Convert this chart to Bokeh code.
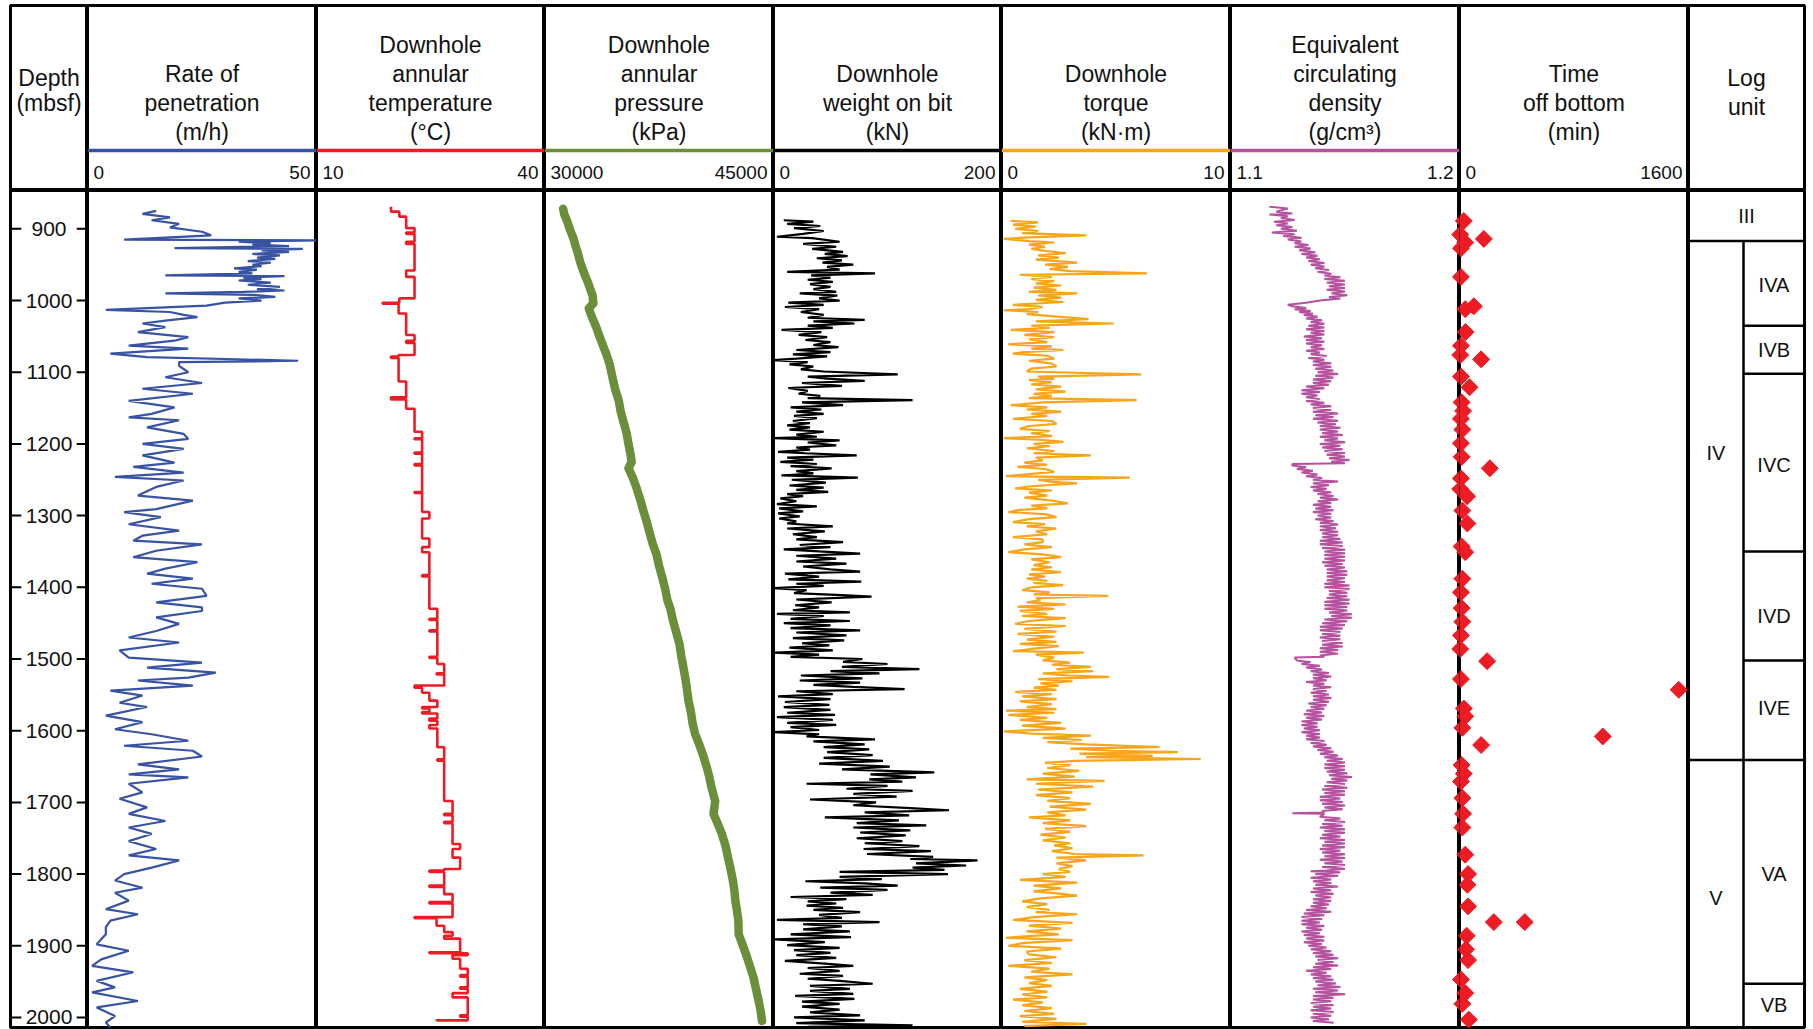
import math
from bokeh.plotting import figure
from bokeh.models import Range1d, Span
from bokeh.layouts import row, column
from bokeh.embed import file_html
from bokeh.resources import INLINE
from bokeh.core.properties import value

FONT = "Liberation Sans"

# ---------------- data (depth in mbsf, value) ----------------
depth_ticks = [900, 1000, 1100, 1200, 1300, 1400, 1500, 1600, 1700, 1800, 1900, 2000]

rop = [(875,15),(879,12),(884,18),(888,14),(893,20),(898,18),(904,25),(909,27),(915,8),(916,50),
       (918,33),(920,40),(922,36),(924,44),(927,19),(928,47),(930,38),(932,44),(935,36),(937,42),
       (940,37),(942,41),(945,35),(947,40),(950,36),(952,38),(955,32),(957,37),(960,33),(962,36),
       (965,17),(966,43),(968,34),(970,38),(972,33),(975,40),(978,35),(981,42),(984,37),(986,43),
       (988,34),(990,17),(992,36),(995,41),(997,33),(1000,38),(1003,30),(1007,26),(1013,4),(1016,18),
       (1020,21),(1023,24),(1028,17),(1032,12),(1037,17),(1044,11),(1051,22),(1056,19),(1063,9),(1067,22),
       (1074,5),(1079,13),(1084,46),(1086,20),(1091,20),(1100,22),(1107,17),(1115,25),(1123,12),(1130,23),
       (1140,9),(1149,19),(1158,14),(1163,9),(1167,20),(1177,13),(1186,21),(1193,22),(1200,12),(1207,21),
       (1216,12),(1226,19),(1232,10),(1240,21),(1246,6),(1251,21),(1260,15),(1272,11),(1279,23),(1291,15),
       (1295,8),(1302,16),(1312,9),(1321,20),(1328,12),(1335,10),(1340,25),(1349,15),(1358,10),(1365,24),
       (1374,17),(1381,13),(1388,23),(1395,14),(1402,25),(1412,26),(1421,15),(1428,25),(1433,25),(1442,15),
       (1451,20),(1461,15),(1470,9),(1477,20),(1488,7),(1498,9),(1505,25),(1512,13),(1519,28),(1526,22),
       (1530,11),(1537,23),(1544,5),(1551,12),(1561,7),(1567,13),(1579,4),(1588,12),(1598,6),(1605,14),
       (1614,22),(1621,8),(1628,23),(1636,25),(1647,11),(1654,20),(1661,9),(1665,22),(1674,9),(1686,12),
       (1695,7),(1707,13),(1716,9),(1726,17),(1735,9),(1744,14),(1754,9),(1765,15),(1774,9),(1781,20),
       (1791,14),(1800,8),(1809,6),(1819,12),(1826,6),(1837,9),(1849,4),(1856,11),(1865,5),(1874,4),
       (1884,4),(1898,2),(1907,9),(1919,3),(1928,1),(1937,10),(1949,2),(1958,6),(1965,1),(1977,11),
       (1986,2),(1998,6),(2007,4),(2014,5)]

temp_steps = [(869,19.8),(876,20.9),(883,21.8),(899,22.9),(905,21.8),(907,22.9),(918,21.8),(921,22.9),
       (958,21.8),(967,22.9),(997,20.9),(1003,18.7),(1004.5,20.8),(1018,21.8),(1048,22.9),(1056,21.8),
       (1059,22.9),(1076,20.8),(1078,19.8),(1080,20.8),(1113,21.8),(1135,19.8),(1138,21.8),(1151,22.9),
       (1183,23.9),(1192,22.9),(1193.5,23.9),(1212,22.9),(1213.5,23.9),(1228,22.9),(1230,23.9),(1267,22.9),
       (1268.5,23.9),(1295,24.85),(1304,23.9),(1332,24.85),(1344,23.9),(1351,24.85),(1383,23.9),(1385,24.85),
       (1430,25.9),(1444,24.85),(1445.5,25.9),(1460,24.85),(1461.5,25.9),(1497,24.85),(1498.5,25.9),(1507,26.8),
       (1520,25.8),(1521.5,26.8),(1537,22.9),(1540,23.9),(1547,24.85),(1558,25.9),(1567,23.9),(1569,24.85),
       (1574,23.9),(1576,25.9),(1583,24.85),(1586,25.9),(1592,24.85),(1597,25.9),(1623,26.8),(1640,25.9),
       (1642,26.8),(1698,27.9),(1716,26.8),(1718,27.9),(1727,26.8),(1729,27.9),(1758,28.9),(1765,27.9),
       (1777,28.9),(1793,26.8),(1795,24.85),(1797,26.8),(1816,24.85),(1818,26.8),(1828,27.9),(1839,24.85),
       (1841,27.9),(1860,22.9),(1861.5,25.8),(1872,26.8),(1881,27.9),(1886,26.8),(1890,28.9),(1909,24.85),
       (1910.5,29.9),(1913,27.9),(1918,28.9),(1932,29.9),(1941,28.9),(1943,29.9),(1958,28.9),(1960,29.9),
       (1966,27.9),(1972,29.9),(1997,28.9),(1999,29.9),(2004,25.8)]
temp_end = 2005

pressure = [(872,31220),(880,31300),(890,31500),(900,31650),(913,31890),(925,32050),(935,32200),(946,32330),
       (955,32480),(965,32650),(975,32850),(983,32980),(993,33150),(1004,33200),(1011,32900),(1020,33050),
       (1030,33250),(1039,33420),(1050,33600),(1060,33780),(1076,34070),(1090,34280),(1105,34430),(1123,34620),
       (1140,34870),(1155,34990),(1169,35170),(1185,35380),(1200,35500),(1215,35640),(1225,35710),(1234,35500),
       (1248,35800),(1262,36040),(1280,36300),(1295,36500),(1309,36700),(1325,36900),(1340,37100),(1355,37350),
       (1370,37500),(1385,37700),(1402,37900),(1418,38050),(1430,38250),(1445,38400),(1465,38660),(1480,38850),
       (1495,38950),(1512,39100),(1530,39250),(1545,39350),(1558,39430),(1575,39600),(1590,39700),(1605,39870),
       (1620,40150),(1635,40400),(1651,40630),(1665,40800),(1680,40950),(1698,41180),(1716,41070),(1730,41350),
       (1744,41620),(1760,41850),(1775,42000),(1791,42170),(1810,42350),(1825,42450),(1837,42500),(1850,42600),
       (1865,42700),(1884,42720),(1900,43000),(1915,43250),(1930,43480),(1945,43700),(1960,43850),(1977,44030),
       (1990,44150),(2005,44250)]

wob = [(888,9),(890,35),(893,12),(896,41),(899,18),(903,44),(907,26),(911,3),(913,34),(918,58),(921,26),
       (925,55),(928,34),(932,61),(935,45),(938,65),(941,38),(944,60),(947,43),(950,70),(953,47),(957,58),
       (960,12),(962,89),(965,33),(968,50),(971,30),(974,52),(977,32),(981,50),(984,35),(988,55),(990,23),
       (993,56),(997,40),(1000,58),(1003,13),(1006,44),(1009,10),(1012,40),(1016,24),(1020,44),(1024,30),
       (1027,80),(1029,35),(1032,71),(1035,30),(1038,52),(1041,7),(1044,42),(1048,22),(1051,47),(1055,28),
       (1058,50),(1062,35),(1065,57),(1069,20),(1072,50),(1075,17),(1078,47),(1081,20),(1083,0),(1086,30),
       (1089,14),(1092,35),(1096,24),(1099,44),(1103,109),(1106,30),(1109,47),(1112,80),(1115,25),(1119,60),
       (1122,13),(1126,30),(1130,22),(1133,41),(1136,30),(1139,122),(1142,25),(1146,61),(1149,15),(1152,42),
       (1155,20),(1158,44),(1161,18),(1164,38),(1168,17),(1171,32),(1174,12),(1177,32),(1180,14),(1183,44),
       (1187,20),(1190,38),(1192,0),(1195,58),(1198,30),(1202,55),(1205,20),(1208,32),(1211,4),(1213,28),
       (1216,73),(1219,12),(1222,35),(1225,6),(1228,38),(1231,15),(1234,51),(1238,20),(1241,35),(1244,7),
       (1247,74),(1250,16),(1254,46),(1258,14),(1261,44),(1264,20),(1267,48),(1270,12),(1273,26),(1276,6),
       (1280,20),(1284,3),(1287,38),(1290,5),(1294,26),(1297,4),(1301,23),(1304,5),(1308,20),(1311,12),
       (1315,52),(1318,12),(1322,45),(1326,17),(1330,38),(1333,20),(1337,61),(1341,23),(1344,50),(1347,9),
       (1350,40),(1353,76),(1356,20),(1360,55),(1364,20),(1367,64),(1371,26),(1375,50),(1378,76),(1381,10),
       (1385,40),(1389,13),(1392,77),(1395,20),(1398,44),(1401,0),(1404,29),(1408,18),(1411,60),(1413,86),
       (1417,20),(1421,51),(1425,19),(1428,40),(1432,17),(1435,67),(1437,3),(1440,44),(1444,15),(1447,67),
       (1450,9),(1453,50),(1457,15),(1460,76),(1463,20),(1467,64),(1471,17),(1474,62),(1478,25),(1481,49),
       (1484,14),(1488,52),(1491,1),(1494,40),(1497,15),(1500,78),(1504,61),(1507,100),(1511,60),(1514,128),
       (1517,50),(1520,93),(1523,24),(1527,78),(1530,23),(1533,76),(1536,35),(1539,70),(1542,115),(1545,20),
       (1549,52),(1552,4),(1556,50),(1560,10),(1564,49),(1567,9),(1571,50),(1575,12),(1578,54),(1581,3),
       (1585,52),(1589,12),(1592,55),(1595,15),(1599,40),(1602,0),(1605,40),(1608,29),(1612,89),(1615,35),
       (1619,80),(1623,44),(1626,84),(1630,47),(1634,87),(1638,44),(1642,96),(1646,40),(1650,102),(1654,60),
       (1658,141),(1661,85),(1665,125),(1668,84),(1671,113),(1674,29),(1677,100),(1681,64),(1684,122),(1688,70),
       (1692,108),(1696,32),(1700,90),(1704,70),(1708,120),(1711,154),(1714,80),(1718,119),(1721,45),(1725,110),
       (1729,73),(1732,134),(1735,70),(1739,120),(1742,76),(1746,116),(1750,73),(1754,113),(1757,80),(1761,128),
       (1765,79),(1768,138),(1772,82),(1776,140),(1779,120),(1781,179),(1785,125),(1788,169),(1791,122),(1794,150),
       (1797,58),(1800,153),(1804,58),(1807,95),(1810,28),(1813,80),(1816,109),(1819,41),(1822,100),(1826,50),
       (1829,87),(1832,15),(1835,64),(1838,30),(1841,55),(1844,29),(1847,61),(1850,35),(1853,76),(1857,40),
       (1861,60),(1864,3),(1867,93),(1870,26),(1873,60),(1877,26),(1880,67),(1884,15),(1888,68),(1891,1),
       (1895,45),(1899,12),(1903,58),(1906,18),(1910,50),(1913,20),(1917,55),(1921,10),(1925,45),(1928,70),
       (1931,30),(1935,58),(1939,23),(1942,61),(1946,30),(1949,58),(1953,87),(1956,32),(1960,67),(1963,32),
       (1967,70),(1970,19),(1974,71),(1978,25),(1981,58),(1985,25),(1989,58),(1993,32),(1997,76),(2000,18),
       (2004,80),(2008,20),(2011,122),(2013,30)]

torque = [(889,0.4),(891,1.6),(894,0.5),(897,1.5),(900,0.6),(903,1.6),(906,0.9),(909,3.7),(912,1.2),(914,0.1),
       (917,1.2),(919,2.3),(922,1.2),(925,1.9),(928,1.3),(931,2.0),(934,2.8),(937,1.6),(940,2.5),(943,1.5),
       (947,3.3),(950,1.9),(953,2.9),(956,2.1),(959,3.0),(962,6.35),(964,0.8),(967,2.2),(970,1.3),(973,2.3),
       (976,1.5),(979,2.6),(982,1.4),(985,2.4),(988,1.2),(990,3.3),(993,1.6),(996,2.6),(999,1.5),(1002,2.7),
       (1006,0.5),(1009,1.8),(1012,1.2),(1013.5,0.1),(1016,1.6),(1019,1.1),(1022,2.3),(1026,3.8),(1029,1.5),
       (1032,4.9),(1035,1.3),(1038,2.1),(1041,0.4),(1044,2.3),(1048,1.0),(1051,2.3),(1054,1.2),(1058,2.0),
       (1061,0.3),(1064,2.2),(1067,1.3),(1069,2.7),(1072,1.0),(1074,0.5),(1077,2.0),(1081,2.3),(1084,1.2),
       (1088,2.2),(1092,2.4),(1095,1.3),(1099,1.1),(1103,6.1),(1106,1.6),(1109,2.3),(1111,1.2),(1114,2.2),
       (1117,1.3),(1120,2.6),(1124,1.5),(1127,2.8),(1130,1.4),(1133,2.2),(1136,1.2),(1139,5.9),(1142,1.8),
       (1146,0.4),(1149,2.0),(1152,1.1),(1155,2.6),(1158,1.3),(1161,2.0),(1165,0.5),(1168,2.2),(1172,2.4),
       (1175,1.2),(1179,0.8),(1182,2.1),(1185,1.3),(1189,2.2),(1192,0.1),(1194,1.6),(1197,2.7),(1200,1.4),
       (1203,2.1),(1206,1.1),(1210,2.3),(1213,1.4),(1216,3.9),(1219,1.5),(1223,1.8),(1226,1.0),(1229,2.0),
       (1232,0.7),(1235,1.9),(1239,2.3),(1242,1.2),(1245,0.2),(1247,5.6),(1250,1.6),(1253,2.2),(1255,3.3),
       (1259,1.3),(1262,0.6),(1265,2.2),(1268,1.2),(1272,2.0),(1275,1.0),(1279,2.2),(1283,2.9),(1286,1.3),
       (1290,2.0),(1292,0.8),(1295,0.3),(1298,1.9),(1302,2.4),(1305,1.2),(1309,0.5),(1312,1.9),(1315,1.1),
       (1318,2.4),(1322,1.5),(1326,2.0),(1330,0.5),(1333,1.8),(1337,1.8),(1340,1.0),(1344,2.2),(1347,1.0),
       (1351,0.3),(1354,1.8),(1358,2.6),(1361,1.3),(1365,2.1),(1369,1.4),(1372,2.2),(1375,1.3),(1379,2.6),
       (1382,1.2),(1385,1.9),(1388,1.1),(1391,2.0),(1394,1.4),(1397,2.7),(1400,1.3),(1404,0.9),(1407,2.1),
       (1410,1.4),(1412,4.65),(1415,1.5),(1418,1.7),(1421,1.1),(1424,2.8),(1427,0.7),(1430,2.3),(1433,0.8),
       (1437,2.0),(1440,0.9),(1443,2.8),(1447,1.2),(1451,0.6),(1454,2.8),(1458,1.0),(1462,2.4),(1465,0.7),
       (1469,2.3),(1473,1.1),(1476,2.4),(1479,0.8),(1482,2.5),(1486,1.3),(1489,0.5),(1491,3.6),(1494,1.5),
       (1498,2.3),(1502,1.8),(1505,3.0),(1508,2.2),(1511,3.9),(1514,2.4),(1517,4.0),(1520,1.8),(1523,2.9),
       (1525,4.7),(1528,1.6),(1531,3.1),(1534,1.7),(1537,2.5),(1540,1.4),(1543,2.4),(1546,0.6),(1549,2.2),
       (1552,0.9),(1556,2.4),(1559,0.8),(1563,2.2),(1567,1.1),(1570,2.4),(1572,0.2),(1575,2.3),(1578,0.3),
       (1582,2.0),(1585,0.8),(1589,2.6),(1593,0.9),(1597,2.8),(1601,0.1),(1604,1.3),(1607,3.9),(1610,1.8),
       (1613,3.5),(1616,2.0),(1619,3.7),(1623,6.9),(1625,3.0),(1628,4.8),(1630,7.7),(1632,3.4),(1635,6.6),
       (1637,3.7),(1639.5,8.7),(1642,3.2),(1645,1.9),(1648,3.0),(1652,2.0),(1656,3.4),(1660,1.8),(1664,3.2),
       (1668,1.1),(1670,4.5),(1674,1.5),(1678,4.0),(1682,1.6),(1686,3.1),(1690,1.5),(1694,3.0),(1698,2.0),
       (1702,3.9),(1706,2.1),(1710,3.7),(1714,2.0),(1718,2.8),(1721,1.2),(1725,3.0),(1729,1.8),(1733,3.7),
       (1737,1.9),(1741,3.0),(1745,1.7),(1749,2.8),(1753,1.8),(1757,3.0),(1760,2.3),(1764,3.1),(1768,2.2),
       (1772,3.2),(1774,6.2),(1777,2.4),(1781,3.7),(1785,2.4),(1789,3.1),(1793,2.5),(1797,3.0),(1800,1.8),
       (1804,2.8),(1808,0.8),(1812,3.3),(1816,1.4),(1820,2.6),(1824,1.4),(1827,2.4),(1830,3.3),(1834,1.7),
       (1838,0.9),(1842,2.0),(1846,1.1),(1850,2.1),(1853,1.5),(1856,3.3),(1860,1.4),(1864,0.5),(1868,3.1),
       (1872,1.2),(1876,2.6),(1880,1.1),(1884,2.5),(1887,1.0),(1889,0.2),(1892,3.1),(1896,1.0),(1900,0.3),
       (1904,2.6),(1908,1.1),(1912,1.2),(1916,2.4),(1920,1.0),(1924,2.2),(1928,0.3),(1932,2.1),(1936,1.3),
       (1940,3.1),(1944,1.0),(1948,2.0),(1952,1.2),(1956,2.2),(1960,0.8),(1964,2.0),(1968,0.9),(1972,2.0),
       (1975,0.5),(1979,1.8),(1983,0.9),(1987,2.2),(1991,1.0),(1995,2.3),(1998,0.8),(2002,2.4),(2006,0.9),
       (2009,3.7),(2012,1.0)]

ecd = [(869,1.117),(871.5,1.125),(876,1.120),(878.5,1.127),(880,1.117),(882.5,1.125),(885,1.122),(887.5,1.128),
       (890,1.119),(892.5,1.125),(895,1.120),(897.5,1.127),(900,1.122),(902.5,1.129),(905,1.118),(907.5,1.128),
       (910,1.123),(912.5,1.131),(915,1.125),(917.5,1.131),(920,1.128),(922.5,1.134),(925,1.128),(927.5,1.135),
       (930,1.130),(932.5,1.137),(935,1.131),(937.5,1.138),(940,1.133),(942.5,1.139),(945,1.134),(947.5,1.141),
       (950,1.135),(952.5,1.141),(955,1.137),(957.5,1.143),(960,1.138),(962.5,1.144),(965,1.141),(967.5,1.148),
       (970,1.141),(972.5,1.150),(975,1.142),(977.5,1.150),(980,1.143),(982.5,1.150),(985,1.142),(987.5,1.150),
       (990,1.144),(992.5,1.151),(995,1.143),(997,1.148),(1000,1.139),(1003,1.133),(1006,1.125),
       (1008,1.127),(1010.5,1.133),(1012,1.128),(1014.5,1.135),(1016,1.130),(1018.5,1.136),(1020,1.132),(1022.5,1.138),
       (1025,1.133),(1027.5,1.140),(1030,1.135),(1032.5,1.141),(1035,1.134),(1037.5,1.141),(1040,1.133),(1042.5,1.141),
       (1045,1.135),(1047.5,1.141),(1050,1.132),(1052.5,1.140),(1055,1.133),(1057.5,1.141),(1060,1.133),(1062.5,1.140),
       (1065,1.135),(1067.5,1.141),(1070,1.133),(1072.5,1.139),(1075,1.135),(1077.5,1.142),(1080,1.134),(1082.5,1.141),
       (1085,1.136),(1087.5,1.144),(1090,1.136),(1092.5,1.144),(1095,1.137),(1097.5,1.145),(1100,1.138),(1102.5,1.147),
       (1105,1.137),(1107.5,1.145),(1110,1.136),(1112.5,1.144),(1115,1.136),(1117.5,1.143),(1120,1.133),(1122.5,1.141),
       (1125,1.131),(1127.5,1.139),(1130,1.131),(1132.5,1.138),(1135,1.133),(1137.5,1.139),(1140,1.133),(1142.5,1.141),
       (1145,1.135),(1147.5,1.144),(1150,1.136),(1152.5,1.144),(1155,1.136),(1157.5,1.147),(1160,1.137),(1162.5,1.145),
       (1165,1.136),(1167.5,1.147),(1170,1.138),(1172.5,1.146),(1175,1.139),(1177.5,1.148),(1180,1.139),(1182.5,1.147),
       (1185,1.140),(1187.5,1.149),(1190,1.139),(1192.5,1.147),(1195,1.141),(1197.5,1.150),(1200,1.139),(1202.5,1.148),
       (1205,1.140),(1207.5,1.149),(1210,1.141),(1212.5,1.150),(1215,1.142),(1217.5,1.150),(1220,1.143),(1222.5,1.152),
       (1225,1.144),(1227,1.150),(1228,1.127),
       (1230,1.127),(1232.5,1.133),(1235,1.129),(1237.5,1.136),(1240,1.131),(1242.5,1.138),(1245,1.133),(1247.5,1.140),
       (1250,1.136),(1252.5,1.147),(1255,1.136),(1257.5,1.143),(1260,1.135),(1262.5,1.142),(1265,1.136),(1267.5,1.144),
       (1270,1.138),(1272.5,1.145),(1275,1.139),(1277.5,1.147),(1280,1.138),(1282.5,1.144),(1285,1.136),(1287.5,1.144),
       (1290,1.137),(1292.5,1.145),(1295,1.136),(1297.5,1.144),(1300,1.138),(1302.5,1.144),(1305,1.137),(1307.5,1.145),
       (1310,1.139),(1312.5,1.147),(1315,1.139),(1317.5,1.146),(1320,1.139),(1322.5,1.147),(1325,1.140),(1327.5,1.147),
       (1330,1.140),(1332.5,1.148),(1335,1.139),(1337.5,1.149),(1340,1.139),(1342.5,1.149),(1345,1.140),(1347.5,1.150),
       (1350,1.141),(1352.5,1.150),(1355,1.141),(1357.5,1.150),(1360,1.141),(1362.5,1.150),(1365,1.140),(1367.5,1.149),
       (1370,1.141),(1372.5,1.150),(1375,1.142),(1377.5,1.151),(1380,1.142),(1382.5,1.151),(1385,1.142),(1387.5,1.150),
       (1390,1.142),(1392.5,1.150),(1395,1.141),(1397.5,1.152),(1400,1.141),(1402.5,1.152),(1405,1.143),(1407.5,1.151),
       (1410,1.143),(1412.5,1.151),(1415,1.142),(1417.5,1.152),(1420,1.141),(1422.5,1.152),(1425,1.141),(1427.5,1.151),
       (1430,1.141),(1432.5,1.151),(1435,1.143),(1437.5,1.153),(1440,1.144),(1442.5,1.153),(1445,1.141),(1447.5,1.151),
       (1450,1.140),(1452.5,1.150),(1455,1.139),(1457.5,1.149),(1460,1.139),(1462.5,1.148),(1465,1.140),(1467.5,1.148),
       (1470,1.139),(1472.5,1.148),(1475,1.140),(1477.5,1.149),(1480,1.140),(1482.5,1.149),(1485,1.139),(1487.5,1.147),
       (1490,1.139),(1492.5,1.147),(1495,1.139),(1497,1.141),(1498,1.128),
       (1502,1.129),(1504.5,1.135),(1507,1.131),(1509.5,1.139),(1512,1.133),(1514.5,1.140),(1517,1.135),(1519.5,1.143),
       (1522,1.136),(1524.5,1.144),(1527,1.136),(1529.5,1.142),(1532,1.133),(1534.5,1.141),(1537,1.136),(1539.5,1.144),
       (1542,1.136),(1544.5,1.142),(1547,1.135),(1549.5,1.143),(1552,1.136),(1554.5,1.144),(1557,1.136),(1559.5,1.143),
       (1562,1.134),(1564.5,1.142),(1567,1.135),(1569.5,1.141),(1572,1.133),(1574.5,1.140),(1577,1.132),(1579.5,1.141),
       (1582,1.133),(1584.5,1.140),(1587,1.131),(1589.5,1.138),(1592,1.131),(1594.5,1.138),(1597,1.132),(1599.5,1.139),
       (1602,1.131),(1604.5,1.139),(1607,1.133),(1609.5,1.139),(1612,1.133),(1614.5,1.141),(1617,1.135),(1619.5,1.142),
       (1622,1.136),(1624.5,1.144),(1627,1.138),(1629.5,1.145),(1632,1.139),(1634.5,1.147),(1637,1.141),(1639.5,1.149),
       (1642,1.142),(1644.5,1.150),(1647,1.141),(1649.5,1.150),(1652,1.141),(1654.5,1.150),(1657,1.142),(1659.5,1.151),
       (1662,1.143),(1664.5,1.153),(1667,1.144),(1669.5,1.151),(1672,1.142),(1674.5,1.150),(1677,1.141),(1679.5,1.151),
       (1682,1.140),(1684.5,1.150),(1687,1.141),(1689.5,1.150),(1692,1.139),(1694.5,1.148),(1697,1.139),(1699.5,1.149),
       (1702,1.140),(1704.5,1.150),(1707,1.141),(1709.5,1.149),(1712,1.140),(1714,1.141),(1715,1.127),(1716,1.141),
       (1720,1.139),(1722.5,1.148),(1725,1.141),(1727.5,1.150),(1730,1.140),(1732.5,1.149),(1735,1.139),(1737.5,1.150),
       (1740,1.141),(1742.5,1.150),(1745,1.140),(1747.5,1.148),(1750,1.139),(1752.5,1.150),(1755,1.141),(1757.5,1.150),
       (1760,1.140),(1762.5,1.150),(1765,1.139),(1767.5,1.148),(1770,1.140),(1772.5,1.150),(1775,1.141),(1777.5,1.150),
       (1780,1.139),(1782.5,1.149),(1785,1.141),(1787.5,1.150),(1790,1.140),(1792.5,1.150),(1795,1.142),(1796,1.135),
       (1797.5,1.148),(1800,1.137),(1802.5,1.147),(1805,1.135),(1807.5,1.144),(1810,1.136),(1812.5,1.144),
       (1815,1.137),(1817.5,1.147),(1820,1.136),(1822.5,1.144),(1825,1.135),(1827.5,1.145),(1830,1.137),(1832.5,1.144),
       (1835,1.136),(1837.5,1.144),(1840,1.136),(1842.5,1.143),(1845,1.135),(1847.5,1.142),(1850,1.133),(1852.5,1.144),
       (1855,1.132),(1857.5,1.141),(1860,1.131),(1862.5,1.140),(1865,1.131),(1867.5,1.139),(1870,1.131),(1872.5,1.141),
       (1875,1.133),(1877.5,1.140),(1880,1.131),(1882.5,1.139),(1885,1.132),(1887.5,1.141),(1890,1.133),(1892.5,1.141),
       (1895,1.132),(1897.5,1.140),(1900,1.134),(1902.5,1.142),(1905,1.135),(1907.5,1.144),(1910,1.136),(1912.5,1.145),
       (1915,1.137),(1917.5,1.147),(1920,1.138),(1922.5,1.145),(1925,1.137),(1927.5,1.147),(1930,1.136),(1932.5,1.144),
       (1935,1.133),(1937.5,1.142),(1940,1.135),(1942.5,1.144),(1945,1.136),(1947.5,1.145),(1950,1.137),(1952.5,1.146),
       (1955,1.138),(1957.5,1.148),(1960,1.136),(1962.5,1.147),(1965,1.137),(1967.5,1.150),(1970,1.136),(1972.5,1.145),
       (1975,1.136),(1977.5,1.144),(1980,1.135),(1982.5,1.145),(1985,1.136),(1987.5,1.144),(1990,1.135),(1992.5,1.145),
       (1995,1.136),(1997.5,1.144),(2000,1.135),(2002.5,1.143),(2005,1.136),(2007.5,1.145)]

tob_depth = [889,908,914,919,927,967,1008,1012,1044,1063,1076,1082,1106,1121,1142,1154,1165,1180,1199,1218,
             1234,1248,1263,1273,1293,1311,1343,1351,1388,1407,1429,1448,1467,1486,1503,1528,1543,1569,1580,1596,
             1608,1620,1648,1660,1671,1694,1716,1735,1773,1800,1815,1845,1867,1867,1886,1905,1920,1947,1966,1981,2003]
tob_time = [30,5,170,40,10,10,100,40,42,10,5,151,10,70,15,25,10,20,10,15,
            212,10,5,53,20,55,15,40,20,10,15,20,10,5,193,10,1532,30,40,20,
            1001,151,15,30,10,20,25,20,40,60,55,60,240,456,50,45,60,10,40,20,65]

unit_names = ["III", "IV", "V"]
unit_top = [846.5, 917, 1641]
unit_label_depth = [882, 1212, 1834]
sub_names = ["IVA", "IVB", "IVC", "IVD", "IVE", "VA", "VB"]
sub_top = [917, 1035, 1102, 1350, 1502, 1641, 1953]
sub_label_depth = [978, 1069, 1230, 1440, 1568, 1800, 1983]

# ---------------- layout ----------------
Y_TOP, Y_BOT = 846.5, 2014.0
yr = Range1d(start=Y_BOT, end=Y_TOP)
H_HEAD, H_BODY = 190, 839
TITLE_SIZE = "23px"
RANGE_SIZE = "19px"

def base_fig(width, height, xr, yrange, **kw):
    p = figure(width=width, height=height, x_range=xr, y_range=yrange, output_backend="svg",
               toolbar_location=None, x_axis_location=None, y_axis_location=None, title=None,
               min_border=0, **kw)
    p.outline_line_color = "black"
    p.outline_line_width = 3
    p.background_fill_color = "white"
    p.border_fill_color = "white"
    for g in p.xgrid + p.ygrid:
        g.visible = False
    return p

def header(width, xr, lines, xc, color=None, lo=None, hi=None, lo_lab=None, hi_lab=None, ys=None, **kw):
    h = base_fig(width, H_HEAD, xr, Range1d(start=H_HEAD, end=5), min_border_top=5, **kw)
    if ys is None:
        ys = {4: [44, 73, 102, 131], 3: [73, 102, 131], 2: [77, 106]}[len(lines)]
    h.text(x=[xc] * len(lines), y=ys, text=lines, text_align="center", text_baseline="middle",
           text_font=value(FONT), text_font_size=TITLE_SIZE, text_color="#111111")
    if color is not None:
        h.add_layout(Span(location=150, dimension="width", line_color=color, line_width=3.5))
    if lo_lab is not None:
        h.text(x=[lo], y=[172], text=[lo_lab], text_align="left", text_baseline="middle", x_offset=6,
               text_font=value(FONT), text_font_size=RANGE_SIZE, text_color="#111111")
        h.text(x=[hi], y=[172], text=[hi_lab], text_align="right", text_baseline="middle", x_offset=-6,
               text_font=value(FONT), text_font_size=RANGE_SIZE, text_color="#111111")
    return h

def body(width, xr, **kw):
    return base_fig(width, H_BODY, xr, yr, min_border_bottom=2, **kw)

heads, bodies = [], []

# depth column: tick marks on both borders, labels centred between them
dxr = Range1d(0, 1)
heads.append(header(87, dxr, ["Depth", "(mbsf)"], 0.5, ys=[77, 102], min_border_left=10))
dp = body(87, dxr, min_border_left=10)
n = len(depth_ticks)
dp.segment(x0=[0] * n, x1=[0.14] * n, y0=depth_ticks, y1=depth_ticks, line_color="black", line_width=2)
dp.segment(x0=[0.86] * n, x1=[1] * n, y0=depth_ticks, y1=depth_ticks, line_color="black", line_width=2)
dp.text(x=[0.5] * n, y=depth_ticks, text=[str(t) for t in depth_ticks],
        text_align="center", text_baseline="middle", text_font=value(FONT), text_font_size="21px",
        text_color="#111111")
bodies.append(dp)

tracks = [
    (["Rate of", "penetration", "(m/h)"], "#3953A4", 0, 50, "0", "50", 229),
    (["Downhole", "annular", "temperature", "(°C)"], "#ED1C24", 10, 40, "10", "40", 228),
    (["Downhole", "annular", "pressure", "(kPa)"], "#6A8E3A", 30000, 45000, "30000", "45000", 229),
    (["Downhole", "weight on bit", "(kN)"], "#000000", 0, 200, "0", "200", 228),
    (["Downhole", "torque", "(kN·m)"], "#F8A51B", 0, 10, "0", "10", 229),
    (["Equivalent", "circulating", "density", "(g/cm³)"], "#B5519E", 1.1, 1.2, "1.1", "1.2", 229),
    (["Time", "off bottom", "(min)"], None, 0, 1600, "0", "1600", 229),
]
figs = []
for lines, col, lo, hi, lol, hil, w in tracks:
    xr = Range1d(lo, hi)
    heads.append(header(w, xr, lines, (lo + hi) / 2, col, lo, hi, lol, hil))
    b = body(w, xr)
    bodies.append(b)
    figs.append(b)

def unzip(pairs):
    return [p[0] for p in pairs], [p[1] for p in pairs]

d, v = unzip(rop)
figs[0].line(v, d, line_color="#3953A4", line_width=2.2)

ty, tx = [], []
for i, (dd, vv) in enumerate(temp_steps):
    d2 = temp_steps[i + 1][0] if i + 1 < len(temp_steps) else temp_end
    ty += [dd, d2]
    tx += [vv, vv]
figs[1].line(tx, ty, line_color="#ED1C24", line_width=2.6)

d, v = unzip(pressure)
figs[2].line(v, d, line_color="#6A8E3A", line_width=8.5, line_join="round", line_cap="round")

d, v = unzip(wob)
figs[3].line(v, d, line_color="#000000", line_width=2.2)

d, v = unzip(torque)
figs[4].line(v, d, line_color="#F8A51B", line_width=2.2)

d, v = unzip(ecd)
figs[5].line(v, d, line_color="#B5519E", line_width=2.0)

# time off bottom (diamonds straddle the left border, so the ECD panel shows their left halves)
figs[6].scatter(tob_time, tob_depth, marker="square", angle=math.pi / 4, size=12,
                fill_color="#ED1C24", line_color="#ED1C24")
figs[5].extra_x_ranges = {"tob": Range1d(-1600, 0)}
figs[5].scatter(tob_time, tob_depth, marker="square", angle=math.pi / 4, size=12,
                fill_color="#ED1C24", line_color="#ED1C24", x_range_name="tob")

# log unit column
lxr = Range1d(0, 116)
heads.append(header(118, lxr, ["Log", "unit"], 58, ys=[77, 106], min_border_right=2))
lp = body(118, lxr, min_border_right=2)
ub = unit_top[1:]
lp.segment(x0=[0] * len(ub), x1=[116] * len(ub), y0=ub, y1=ub, line_color="black", line_width=2.5)
sb = [s for s in sub_top if s not in unit_top]
lp.segment(x0=[55] * len(sb), x1=[116] * len(sb), y0=sb, y1=sb, line_color="black", line_width=2.5)
lp.segment(x0=[55], x1=[55], y0=[unit_top[1]], y1=[Y_BOT], line_color="black", line_width=2.5)
lp.text(x=[58, 27.5, 27.5], y=unit_label_depth, text=unit_names, text_align="center",
        text_baseline="middle", text_font=value(FONT), text_font_size="20px", text_color="#111111")
lp.text(x=[85.5] * len(sub_names), y=sub_label_depth, text=sub_names, text_align="center",
        text_baseline="middle", text_font=value(FONT), text_font_size="20px", text_color="#111111")
bodies.append(lp)

layout = column(row(*heads, spacing=0), row(*bodies, spacing=0), spacing=0)
open("out.html", "w").write(file_html(layout, INLINE))
